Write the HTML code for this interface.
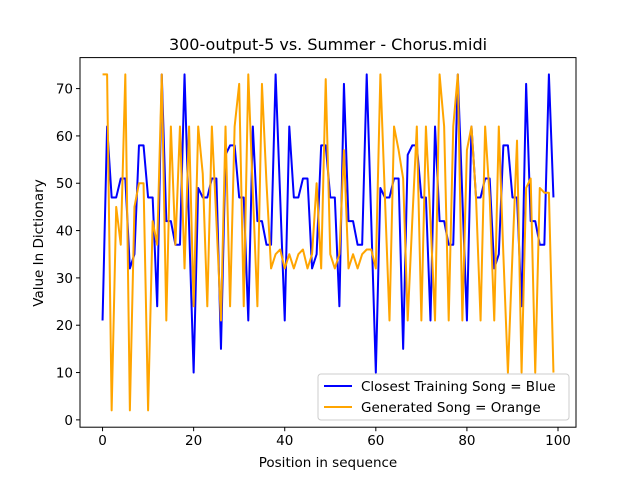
<!DOCTYPE html>
<html><head><meta charset="utf-8"><style>
body{margin:0;background:#fff;}
svg{display:block;font-family:"DejaVu Sans","Liberation Sans",sans-serif;}
</style></head><body>
<svg id="chart" width="640" height="480" viewBox="0 0 640 480">
<rect width="640" height="480" fill="#fff"/>
<text x="328" y="50" font-size="16" text-anchor="middle">300-output-5 vs. Summer - Chorus.midi</text>
<g id="marks"></g>
<g id="axes"></g>
<text x="328" y="467" font-size="13.5" text-anchor="middle">Position in sequence</text>
<text transform="translate(43,243) rotate(-90)" font-size="13.5" text-anchor="middle">Value In Dictionary</text>
<g>
<rect x="318" y="374" width="251" height="46" rx="3" fill="#fff" fill-opacity="0.8" stroke="#ccc"/>
<line x1="324" y1="386" x2="352" y2="386" stroke="#0000ff" stroke-width="2"/>
<text x="361" y="391" font-size="13.5">Closest Training Song = Blue</text>
<line x1="324" y1="407" x2="352" y2="407" stroke="#ffa500" stroke-width="2"/>
<text x="361" y="412" font-size="13.5">Generated Song = Orange</text>
</g>
</svg>
<script>
const blueValues=[21,62,47,47,51,51,32,35,58,58,47,47,24,73,42,42,37,37,73,41,10,49,47,47,51,
51,15,56,58,58,47,47,21,62,42,42,37,37,73,47,21,62,47,47,51,51,32,35,58,
58,47,47,24,71,42,42,37,37,73,42,10,49,47,47,51,51,15,56,58,58,47,47,21,62,
42,42,37,37,73,47,21,62,47,47,51,51,32,35,58,58,47,47,24,71,42,42,37,37,73,47];
const orangeValues=[73,73,2,45,37,73,2,45,50,50,2,42,37,73,21,62,37,62,32,62,24,62,52,24,62,
42,21,62,24,62,71,24,73,48,24,71,50,32,35,36,32,35,32,35,36,32,35,50,32,
72,35,32,35,57,32,35,32,35,36,36,32,73,47,21,62,57,51,21,42,62,21,62,42,21,
73,62,21,62,73,21,57,62,47,21,62,47,21,62,35,10,35,59,10,49,51,10,49,48,48,10];
const xTicks=[0,20,40,60,80,100];
const yTicks=[0,10,20,30,40,50,60,70];
const L=80,R=576,T=57.6,B=427.2,xMin=-4.95,xMax=103.95,yMin=-1.55,yMax=76.55;
const X=v=>L+(v-xMin)/(xMax-xMin)*(R-L);
const Y=v=>B-(v-yMin)/(yMax-yMin)*(B-T);
const NS="http://www.w3.org/2000/svg";
const marks=document.getElementById('marks'),axes=document.getElementById('axes');
function mk(tag,attrs,parent){const e=document.createElementNS(NS,tag);for(const k in attrs)e.setAttribute(k,attrs[k]);parent.appendChild(e);return e;}
function series(vals,color,name){
  const p=mk('polyline',{points:vals.map((v,i)=>X(i).toFixed(2)+','+Y(v).toFixed(2)).join(' '),fill:'none',stroke:color,'stroke-width':2,'stroke-linejoin':'round'},marks);
  
  
}
series(blueValues,'#0000ff','blue-series-line');
series(orangeValues,'#ffa500','orange-series-line');
const frame=mk('rect',{x:L,y:T,width:R-L,height:B-T,fill:'none',stroke:'#000','stroke-width':1},axes);


xTicks.forEach(t=>{
  const tk=mk('line',{x1:X(t),y1:B,x2:X(t),y2:B+4,stroke:'#000'},axes);
  
  
  const tx=mk('text',{x:X(t),y:B+18,'font-size':13.5,'text-anchor':'middle'},axes);
  tx.textContent=t;
  
  
});
yTicks.forEach(t=>{
  const tk=mk('line',{x1:L-4,y1:Y(t),x2:L,y2:Y(t),stroke:'#000'},axes);
  
  
  const tx=mk('text',{x:L-7,y:Y(t)+5,'font-size':13.5,'text-anchor':'end'},axes);
  tx.textContent=t;
  
  
});
</script>
</body></html>
